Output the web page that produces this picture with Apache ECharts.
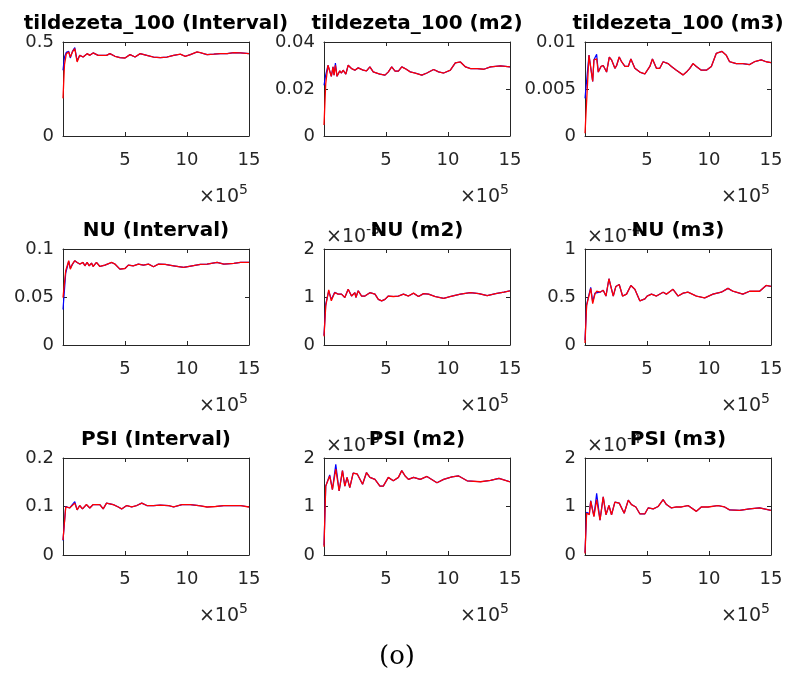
<!DOCTYPE html>
<html><head><meta charset="utf-8">
<script src="https://cdn.jsdelivr.net/npm/echarts@6/dist/echarts.min.js"></script>
<style>html,body{margin:0;padding:0;background:#fff}#c{width:787px;height:678px}</style>
</head><body><div id="c"></div>
<script>
// ---------------- DATA (x in units of 1e5) ----------------
const titles = ['tildezeta_100 (Interval)','tildezeta_100 (m2)','tildezeta_100 (m3)',
                'NU (Interval)','NU (m2)','NU (m3)',
                'PSI (Interval)','PSI (m2)','PSI (m3)'];
const xTicks = [5, 10, 15];

const x_tz_int = [0,0.12,0.27,0.46,0.59,0.76,0.95,1.14,1.35,1.62,1.95,2.16,2.43,2.84,3.51,3.78,4.19,4.59,5.0,5.41,5.81,6.22,6.76,7.3,7.84,8.38,8.92,9.46,9.86,10.27,10.81,11.08,11.62,12.16,12.7,13.24,13.78,14.32,15];
const red_tz_int = [0.20,0.38,0.438,0.447,0.42,0.447,0.465,0.394,0.429,0.42,0.438,0.429,0.442,0.429,0.429,0.438,0.424,0.417,0.415,0.433,0.42,0.438,0.429,0.42,0.417,0.42,0.429,0.435,0.424,0.433,0.447,0.443,0.433,0.435,0.438,0.438,0.443,0.442,0.438];
const blueHead_tz_int = [0.35,0.42,0.445,0.45,0.415,0.45,0.47,0.40];

const x_tz_m2 = [0,0.14,0.32,0.59,0.73,0.81,0.92,1.05,1.27,1.41,1.54,1.76,1.95,2.22,2.49,2.76,3.16,3.43,3.7,3.97,4.51,4.92,5.19,5.46,5.73,6.0,6.27,6.54,6.95,7.35,7.89,8.3,8.84,9.24,9.65,10.19,10.59,11.0,11.41,11.81,12.35,12.89,13.43,14.24,15];
const red_tz_m2 = [0.0047,0.0223,0.0301,0.0254,0.0294,0.0259,0.0301,0.0254,0.0277,0.0268,0.028,0.0263,0.0301,0.0287,0.028,0.029,0.028,0.0277,0.0294,0.0273,0.0263,0.0259,0.0273,0.0294,0.0276,0.0276,0.0294,0.0287,0.0273,0.0268,0.0259,0.0268,0.0283,0.0273,0.0268,0.028,0.0311,0.0315,0.0294,0.0287,0.0287,0.0284,0.0294,0.0298,0.0294];
const blueHead_tz_m2 = [0.0216,0.026,0.0301,0.0254,0.0294,0.0259,0.031];

const x_tz_m3 = [0,0.32,0.62,0.72,0.94,1.07,1.29,1.47,1.74,1.96,2.14,2.41,2.55,2.76,2.95,3.22,3.49,3.7,4.02,4.42,4.83,4.96,5.23,5.44,5.76,6.03,6.3,6.43,6.7,6.97,7.37,7.91,8.18,8.45,8.71,8.98,9.38,9.79,10.19,10.59,11.05,11.39,11.66,12.2,12.73,13.27,13.67,14.21,14.61,15];
const red_tz_m3 = [0.0003,0.0086,0.0058,0.0081,0.0082,0.0068,0.0074,0.0075,0.0068,0.0084,0.0081,0.0072,0.0075,0.0084,0.0079,0.0074,0.0074,0.0082,0.0072,0.0068,0.0066,0.0066,0.0074,0.0082,0.0072,0.0072,0.0079,0.0081,0.0077,0.0074,0.007,0.0065,0.0068,0.0072,0.0077,0.0074,0.007,0.007,0.0074,0.0088,0.009,0.0086,0.0079,0.0077,0.0077,0.0076,0.0079,0.0081,0.0079,0.0078];
const blueHead_tz_m3 = [0.004,0.0086,0.0058,0.0081,0.0087,0.0068];

const x_nu_int = [0,0.22,0.46,0.59,0.76,0.95,1.14,1.35,1.62,1.76,1.95,2.11,2.3,2.43,2.7,2.97,3.38,3.92,4.19,4.59,5.0,5.27,5.68,6.08,6.49,6.89,7.3,7.7,8.24,8.92,9.73,10.41,11.08,11.62,12.43,12.97,13.78,14.32,15];
const red_nu_int = [0.0493,0.0773,0.0878,0.079,0.0843,0.0878,0.086,0.0843,0.086,0.0825,0.086,0.0825,0.0853,0.0818,0.086,0.0818,0.0832,0.086,0.0843,0.079,0.0797,0.0832,0.0825,0.0843,0.0832,0.0843,0.0815,0.0843,0.0839,0.0825,0.0808,0.0825,0.0839,0.0843,0.086,0.0843,0.085,0.086,0.086];
const blueHead_nu_int = [0.037,0.075,0.087,0.08,0.084];

// NU (m2) values in units of 1e-3
const x_nu_m2 = [0,0.14,0.38,0.59,0.86,1.14,1.41,1.68,1.95,2.22,2.49,2.57,2.76,3.03,3.3,3.7,4.11,4.38,4.65,4.92,5.19,5.59,6.0,6.41,6.81,7.22,7.62,8.03,8.43,8.97,9.65,10.32,11.0,11.81,12.49,13.16,13.84,14.51,15];
const red_nu_m2 = [0.18,0.81,1.15,0.92,1.09,1.06,1.06,0.99,1.16,1.02,1.09,0.99,1.13,1.02,1.02,1.09,1.06,0.95,0.92,0.95,1.02,1.01,1.02,1.06,1.02,1.08,1.01,1.07,1.06,1.01,0.97,1.02,1.06,1.09,1.07,1.03,1.07,1.1,1.13];
const blueHead_nu_m2 = [0.2,0.85,1.12,0.95,1.1];

// NU (m3) values in units of 1e-4
const x_nu_m3 = [0,0.13,0.46,0.62,0.8,0.94,1.21,1.47,1.69,1.93,2.28,2.49,2.76,3.03,3.35,3.7,4.02,4.42,4.83,5.01,5.36,5.76,6.3,6.57,7.1,7.51,7.91,8.31,8.98,9.65,10.32,10.99,11.53,11.93,12.73,13.27,14.08,14.61,15];
const red_nu_m3 = [0.02,0.41,0.59,0.43,0.53,0.56,0.55,0.57,0.51,0.69,0.51,0.61,0.63,0.51,0.53,0.62,0.58,0.46,0.48,0.51,0.53,0.51,0.55,0.53,0.58,0.51,0.54,0.55,0.51,0.49,0.53,0.55,0.59,0.56,0.53,0.56,0.56,0.62,0.61];
const blueHead_nu_m3 = [0.05,0.42,0.6,0.45,0.54];

const x_psi_int = [0,0.22,0.54,0.68,0.95,1.14,1.35,1.57,1.89,2.16,2.43,2.97,3.24,3.51,4.05,4.46,4.73,5.14,5.54,5.95,6.35,6.76,7.3,7.84,8.51,8.92,9.59,10.27,10.95,11.62,12.3,12.97,13.78,14.32,15];
const red_psi_int = [0.031,0.099,0.097,0.093,0.107,0.093,0.102,0.095,0.104,0.097,0.104,0.104,0.095,0.107,0.104,0.099,0.095,0.102,0.099,0.102,0.107,0.102,0.102,0.103,0.102,0.099,0.104,0.104,0.102,0.099,0.1,0.102,0.102,0.102,0.099];
const blueHead_psi_int = [0.03,0.1,0.097,0.093,0.11];

// PSI (m2) values in units of 1e-3
const x_psi_m2 = [0,0.14,0.24,0.46,0.68,0.95,1.22,1.49,1.68,1.86,2.08,2.35,2.68,3.11,3.43,3.7,4.11,4.51,4.78,5.19,5.59,6.0,6.27,6.54,6.81,7.22,7.76,8.3,9.11,9.65,10.32,10.86,11.54,12.62,13.43,14.11,15];
const red_psi_m2 = [0.17,1.42,1.39,1.63,1.35,1.77,1.32,1.74,1.42,1.6,1.39,1.69,1.67,1.46,1.7,1.6,1.56,1.42,1.42,1.6,1.53,1.6,1.74,1.63,1.56,1.6,1.56,1.62,1.49,1.56,1.61,1.63,1.53,1.51,1.54,1.58,1.51];
const blueHead_psi_m2 = [0.2,1.42,1.45,1.65,1.35,1.87];

// PSI (m3) values in units of 1e-4
const x_psi_m3 = [0,0.13,0.35,0.46,0.72,0.94,1.21,1.47,1.69,1.93,2.14,2.41,2.76,3.16,3.49,3.75,4.1,4.42,4.83,5.09,5.5,5.9,6.3,6.57,6.97,7.37,7.77,8.31,8.98,9.38,9.92,10.72,11.26,11.66,12.47,13.27,14.08,15];
const red_psi_m3 = [0.03,0.86,0.83,1.11,0.79,1.14,0.72,1.2,0.83,1.02,0.83,1.09,1.07,0.86,1.13,1.04,0.99,0.85,0.85,0.97,0.95,1.0,1.14,1.04,0.97,0.99,0.99,1.02,0.9,0.99,0.99,1.02,0.99,0.93,0.92,0.95,0.97,0.92];
const blueHead_psi_m3 = [0.05,0.88,0.85,1.12,0.8,1.27];

const yMaxes = [0.5, 0.04, 0.01, 0.1, 2, 1, 0.2, 2, 2];
const yIntervals = [0.5, 0.02, 0.005, 0.05, 1, 0.5, 0.1, 1, 1];
const yExponents = [null, null, null, null, '-3', '-4', null, '-3', '-4'];
const xExponent = '5';
const caption = '(o)';

// ---------------- BUILD ----------------
const xs = [x_tz_int, x_tz_m2, x_tz_m3, x_nu_int, x_nu_m2, x_nu_m3, x_psi_int, x_psi_m2, x_psi_m3];
const reds = [red_tz_int, red_tz_m2, red_tz_m3, red_nu_int, red_nu_m2, red_nu_m3, red_psi_int, red_psi_m2, red_psi_m3];
const blueHeads = [blueHead_tz_int, blueHead_tz_m2, blueHead_tz_m3, blueHead_nu_int, blueHead_nu_m2, blueHead_nu_m3, blueHead_psi_int, blueHead_psi_m2, blueHead_psi_m3];

const colLeft = [63, 324, 585];
const rowTop = [42, 249, 458];
const rowH = [94, 96, 97];
const W = 186;
const FONT = '"DejaVu Sans", sans-serif';
const AX = '#262626';

const grid = [], xAxis = [], yAxis = [], series = [], graphic = [];
for (let i = 0; i < 9; i++) {
  const r = Math.floor(i / 3), c = i % 3;
  const L = colLeft[c], T = rowTop[r], H = rowH[r];
  grid.push({left: L, top: T, width: W, height: H, containLabel: false});
  const line = {show: true, onZero: false, lineStyle: {color: AX, width: 1}};
  const tick = {show: true, inside: true, length: 4, lineStyle: {color: AX, width: 1}};
  xAxis.push({type: 'value', gridIndex: i, min: 0, max: 15, interval: 5, position: 'bottom',
    axisLine: line, axisTick: tick, splitLine: {show: false},
    axisLabel: {fontSize: 18, fontFamily: FONT, color: AX, margin: 15,
      formatter: v => (xTicks.indexOf(v) >= 0 ? String(v) : '')}});
  xAxis.push({type: 'value', gridIndex: i, min: 0, max: 15, interval: 5, position: 'top',
    axisLine: line, axisTick: tick, splitLine: {show: false}, axisLabel: {show: false}});
  yAxis.push({type: 'value', gridIndex: i, min: 0, max: yMaxes[i], interval: yIntervals[i], position: 'left',
    axisLine: line, axisTick: tick, splitLine: {show: false},
    axisLabel: {fontSize: 18, fontFamily: FONT, color: AX, margin: 9}});
  yAxis.push({type: 'value', gridIndex: i, min: 0, max: yMaxes[i], interval: yIntervals[i], position: 'right',
    axisLine: line, axisTick: tick, splitLine: {show: false}, axisLabel: {show: false}});

  const x = xs[i], red = reds[i], bh = blueHeads[i];
  series.push({type: 'line', xAxisIndex: 2 * i, yAxisIndex: 2 * i, showSymbol: false, silent: true,
    lineStyle: {color: '#0000ff', width: 1.2}, data: x.map((v, k) => [v, k < bh.length ? bh[k] : red[k]])});
  series.push({type: 'line', xAxisIndex: 2 * i, yAxisIndex: 2 * i, showSymbol: false, silent: true,
    lineStyle: {color: '#ff0000', width: 1.3}, data: x.map((v, k) => [v, red[k]])});

  graphic.push({type: 'text', x: L + W - 10, y: T + H + 61, z: 5,
    style: {text: '×10', font: '19px ' + FONT, fill: AX, align: 'right', verticalAlign: 'middle'}});
  graphic.push({type: 'text', x: L + W - 10, y: T + H + 54, z: 5,
    style: {text: xExponent, font: '14px ' + FONT, fill: AX, align: 'left', verticalAlign: 'middle'}});
  if (yExponents[i]) {
    graphic.push({type: 'text', x: L + 2, y: T - 12, z: 5,
      style: {text: '×10', font: '19px ' + FONT, fill: AX, align: 'left', verticalAlign: 'middle'}});
    graphic.push({type: 'text', x: L + 42, y: T - 19, z: 5,
      style: {text: yExponents[i], font: '14px ' + FONT, fill: AX, align: 'left', verticalAlign: 'middle'}});
  }
  graphic.push({type: 'text', x: L + W / 2, y: T - 18, z: 20,
    style: {text: titles[i], font: 'bold 20px ' + FONT, fill: '#000', align: 'center', verticalAlign: 'middle'}});
}
graphic.push({type: 'text', x: 397, y: 657, z: 5,
  style: {text: caption, font: '26px "DejaVu Serif", serif', fill: '#000', align: 'center', verticalAlign: 'middle'}});

const chart = echarts.init(document.getElementById('c'), null, {renderer: 'canvas'});
chart.setOption({animation: false, backgroundColor: '#fff', grid, xAxis, yAxis, series, graphic});
</script></body></html>
